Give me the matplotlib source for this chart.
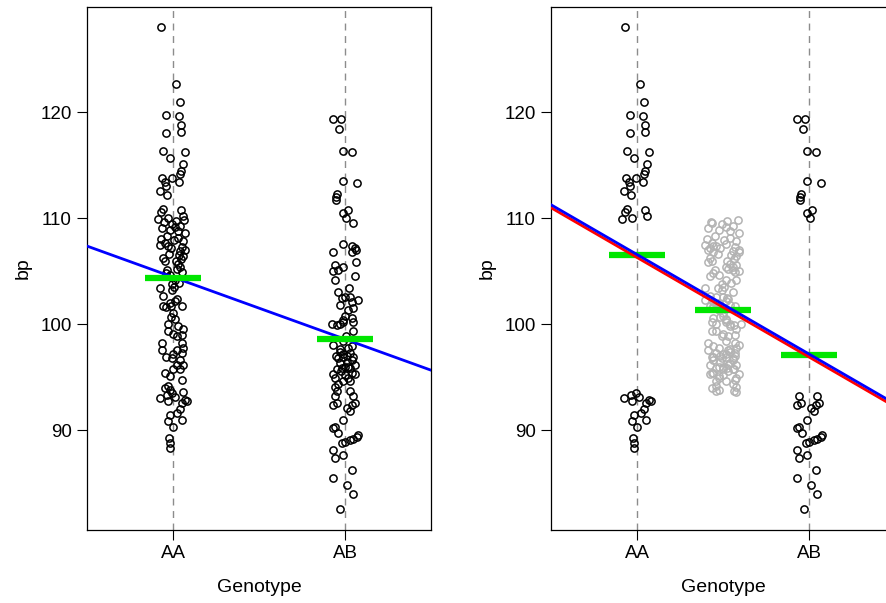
import matplotlib
matplotlib.use("Agg")
import matplotlib.pyplot as plt
import numpy as np

plt.rcParams['font.family'] = ['Liberation Sans', 'DejaVu Sans']

# ---------------- data ----------------
genotypes = ["AA", "AB"]
yticks = [90, 100, 110, 120]

# AA phenotypes and their horizontal jitter (in x units)
aa_bp = [128.0, 122.6, 120.9, 119.7, 119.6, 118.8, 118.0, 118.1, 116.3, 115.7,
         116.2, 115.1, 114.4, 114.2, 113.8, 113.8, 113.4, 113.4, 113.0, 112.6,
         112.2, 110.9, 110.6, 110.8, 110.2,
         109.9, 109.6, 110.0, 109.4, 109.7, 109.3, 109.8, 109.1, 108.9, 108.8, 108.6,
         108.0, 107.7, 107.4, 107.2, 107.8, 107.3, 106.9, 106.5, 106.1, 105.7,
         106.4, 105.4, 105.2, 104.9, 106.2, 106.0, 105.1, 107.5,
         104.6, 104.2, 103.8, 103.5, 103.2,
         103.4, 102.7, 102.4, 102.2, 101.7, 101.6, 101.7, 101.7, 101.1, 100.7, 100.5,
         99.4, 99.1, 98.9, 99.0, 99.5,
         98.2, 98.2, 97.6, 97.8, 97.3, 97.2, 96.8, 96.6, 96.2, 96.2, 95.8, 95.8,
         95.4, 94.2, 94.0, 93.8, 94.7,
         93.0, 93.3, 93.5, 92.8, 93.1, 93.6, 92.9, 92.6, 92.8,
         92.0, 91.6, 91.4, 90.9, 91.0,
         90.3, 89.3, 88.8, 88.3,
         109.2, 108.3, 107.9, 108.1, 107.0, 106.6, 106.0, 104.8, 103.9, 102.0,
         100.0, 99.8, 96.9, 97.6, 95.1]
aa_jit = [-0.070, 0.017, 0.041, -0.041, 0.035, 0.047, -0.041, 0.047, -0.058, -0.017,
          0.070, 0.058, 0.047, 0.041, -0.064, -0.006, -0.047, 0.035, -0.041, -0.076,
          -0.035, -0.058, -0.070, 0.047, 0.058,
          -0.087, -0.052, -0.029, -0.006, 0.017, 0.041, 0.064, -0.064, -0.017, 0.029, 0.070,
          -0.070, -0.047, -0.029, -0.012, 0.058, 0.052, 0.041, 0.035, 0.047, 0.029,
          0.058, 0.041, 0.023, 0.052, -0.058, -0.047, -0.035, -0.076,
          -0.017, 0.012, -0.006, 0.006, -0.006,
          -0.076, -0.058, 0.023, 0.012, -0.058, -0.041, -0.012, 0.052, 0.000, -0.012, 0.012,
          -0.029, 0.000, 0.023, 0.052, 0.058,
          -0.064, 0.052, -0.064, 0.058, 0.052, 0.000, -0.006, 0.041, 0.023, 0.058, 0.000, 0.041,
          -0.047, -0.029, -0.047, -0.017, 0.052,
          -0.076, -0.035, -0.006, -0.029, 0.012, 0.058, 0.070, 0.052, 0.081,
          0.041, 0.023, -0.017, -0.029, 0.052,
          0.000, -0.023, -0.017, -0.017,
          0.012, -0.035, 0.006, 0.029, 0.070, -0.023, 0.017, -0.041, 0.035, -0.017,
          -0.029, 0.029, -0.041, 0.023, -0.017]

# AB phenotypes and their horizontal jitter
ab_bp = [119.3, 119.3, 118.4, 116.3, 116.2, 113.5, 113.3, 112.3, 112.0, 111.7,
         110.8, 110.5, 110.0, 109.5, 107.6, 107.4, 107.2,
         106.8, 106.8, 105.9, 107.0,
         105.6, 105.1, 105.0, 104.2, 105.4, 104.5,
         103.0, 102.5, 102.6, 102.6, 102.1, 102.3, 101.5,
         101.3, 100.8, 100.4, 100.6, 100.2,
         100.0, 99.9, 100.0, 100.2, 99.4,
         98.0, 98.4, 97.7,
         97.4, 97.2, 96.9, 96.3, 96.4, 96.6, 96.9, 95.8, 95.9, 96.0, 95.4,
         95.3, 95.2, 94.9, 94.6, 94.6, 95.3, 94.9, 97.0, 97.3, 96.8, 96.0,
         94.1, 93.7, 93.2, 92.4, 92.6, 93.7, 93.2, 92.1, 92.4, 92.6, 91.8,
         91.0,
         90.3, 90.2, 89.7,
         88.8, 88.9, 89.1, 89.2, 89.4, 89.6,
         88.1, 87.4, 87.7,
         86.3, 85.5, 84.8, 84.0, 82.6,
         97.8, 97.9, 97.0, 95.6, 95.9, 94.4, 96.2, 98.9, 101.8, 103.4]
ab_jit = [-0.070, -0.023, -0.035, -0.012, 0.041, -0.012, 0.070, -0.047, -0.052, -0.052,
          0.017, -0.012, 0.006, 0.047, -0.012, 0.041, 0.058,
          -0.070, 0.041, 0.064, 0.064,
          -0.058, -0.041, -0.070, -0.058, -0.012, 0.058,
          -0.041, -0.017, 0.000, 0.029, 0.041, 0.076, 0.047,
          0.017, 0.000, -0.012, 0.041, 0.047,
          -0.076, -0.047, -0.029, -0.012, 0.047,
          -0.070, -0.012, -0.029,
          -0.029, -0.012, -0.012, -0.029, 0.012, 0.041, 0.047, -0.047, -0.017, 0.017, 0.041,
          0.058, 0.000, 0.017, 0.029, -0.012, -0.070, -0.058, 0.012, 0.029, -0.041, 0.000,
          -0.058, -0.047, -0.058, -0.070, -0.047, 0.029, 0.047, 0.012, 0.041, 0.058, 0.029,
          -0.012,
          -0.058, -0.070, -0.041,
          -0.017, 0.000, 0.029, 0.047, 0.070, 0.076,
          -0.070, -0.058, -0.012,
          0.041, -0.070, 0.012, 0.047, -0.029,
          0.017, 0.041, -0.052, -0.023, 0.029, -0.041, 0.058, 0.006, -0.029, 0.023]

# group means (green bars) and fitted lines
left_means = [104.4, 98.6]
right_pos = [1.0, 1.5, 2.0]
right_means = [106.5, 101.3, 97.1]
left_line = (110.29, -5.85)      # intercept, slope (blue)
right_blue = (115.95, -9.38)
right_red = (115.67, -9.38)
mid_lo, mid_hi = 93.6, 109.8     # phenotypes moved to the grey middle group
mid_spread = 1.35                # wider jitter of the grey middle group

# ---------------- figure ----------------
W, H = 886, 603
fig = plt.figure(figsize=(W / 100, H / 100), dpi=100)
bottom = 1 - 530 / H
height = (530 - 7) / H
width = 344 / W
ax1 = fig.add_axes([87 / W, bottom, width, height])
ax2 = fig.add_axes([551 / W, bottom, width, height])

aa_bp = np.array(aa_bp); aa_jit = np.array(aa_jit)
ab_bp = np.array(ab_bp); ab_jit = np.array(ab_jit)

ylim = (80.6, 129.9)
xlim = (0.5, 2.5)
pt = dict(marker='o', ms=5.2, mfc='none', mew=1.1, ls='none', zorder=3)


def style(ax):
    ax.set_xlim(*xlim)
    ax.set_ylim(*ylim)
    for x in (1, 2):
        ax.axvline(x, color='#8c8c8c', lw=1.0, ls=(0, (5, 4)), zorder=1)
    ax.set_xticks([1, 2])
    ax.set_xticklabels(genotypes)
    ax.set_yticks(yticks)
    ax.tick_params(axis='both', direction='out', length=7, width=0.8,
                   labelsize=13.5, pad=4, color='black')
    for s in ax.spines.values():
        s.set_linewidth(0.9)
    ax.set_xlabel("Genotype", fontsize=14, labelpad=12)
    ax.set_ylabel("bp", fontsize=14, labelpad=6)


# left panel
style(ax1)
ax1.plot(1 + aa_jit, aa_bp, mec='black', **pt)
ax1.plot(2 + ab_jit, ab_bp, mec='black', **pt)
xs = np.array(xlim)
ax1.plot(xs, left_line[0] + left_line[1] * xs, color='#0000ff', lw=2.0, zorder=4)
for xi, m in zip([1, 2], left_means):
    ax1.plot([xi - 0.165, xi + 0.165], [m, m], color='#00e600', lw=4.5,
             solid_capstyle='butt', zorder=5)

# right panel
style(ax2)
aa_out = (aa_bp < mid_lo) | (aa_bp > mid_hi)
ab_out = (ab_bp < mid_lo) | (ab_bp > mid_hi)
mid_bp = np.concatenate([aa_bp[~aa_out], ab_bp[~ab_out]])
mid_jit = np.concatenate([aa_jit[~aa_out], -ab_jit[~ab_out]]) * mid_spread
ax2.plot(1.5 + mid_jit, mid_bp, mec='#b3b3b3', **pt)
ax2.plot(1 + aa_jit[aa_out], aa_bp[aa_out], mec='black', **pt)
ax2.plot(2 + ab_jit[ab_out], ab_bp[ab_out], mec='black', **pt)
for xi, m in zip(right_pos, right_means):
    ax2.plot([xi - 0.165, xi + 0.165], [m, m], color='#00e600', lw=4.5,
             solid_capstyle='butt', zorder=4)
ax2.plot(xs, right_red[0] + right_red[1] * xs, color='#ff0000', lw=2.0, zorder=5)
ax2.plot(xs, right_blue[0] + right_blue[1] * xs, color='#0000ff', lw=2.0, zorder=6)

fig.savefig("out.png", dpi=100)
